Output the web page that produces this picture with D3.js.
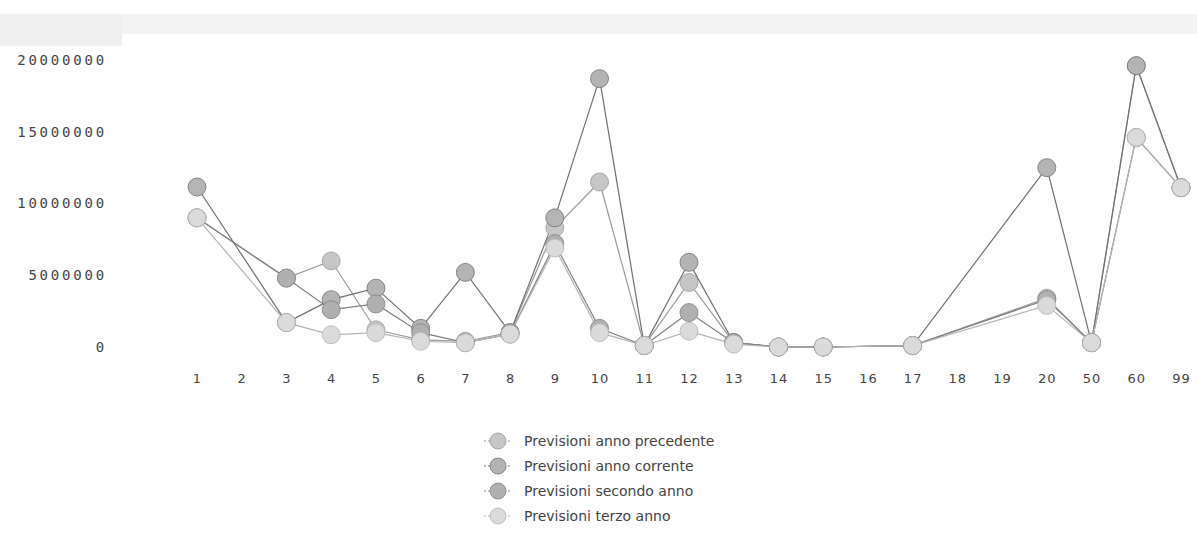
<!DOCTYPE html>
<html>
<head>
<meta charset="utf-8">
<script src="https://cdn.jsdelivr.net/npm/d3@7"></script>
<style>
  html, body { margin: 0; padding: 0; background: #fff; }
  svg { display: block; }
</style>
</head>
<body>
<script>
// ---- data ----
const categories = ["1","2","3","4","5","6","7","8","9","10","11","12","13","14","15","16","17","18","19","20","50","60","99"];
const seriesNames = ["Previsioni anno precedente","Previsioni anno corrente","Previsioni secondo anno","Previsioni terzo anno"];
const annoPrecedente = [9000000,null,4800000,6000000,1200000,500000,400000,1000000,8300000,11500000,100000,4500000,300000,0,0,null,100000,null,null,3400000,300000,19600000,11100000];
const annoCorrente   = [11150000,null,1700000,3300000,4100000,1300000,5200000,1000000,9000000,18700000,100000,5900000,300000,0,0,null,100000,null,null,12500000,300000,19600000,11100000];
const secondoAnno    = [9000000,null,4800000,2600000,3000000,1000000,300000,900000,7200000,1300000,100000,2400000,300000,0,0,null,100000,null,null,3300000,300000,14600000,11100000];
const terzoAnno      = [9000000,null,1700000,850000,1000000,400000,300000,900000,6900000,1000000,100000,1100000,200000,0,0,null,100000,null,null,2900000,300000,14600000,11100000];
const yTicks = [0,5000000,10000000,15000000,20000000];

const allSeries = [annoPrecedente, annoCorrente, secondoAnno, terzoAnno];
const lineColors = ["#9a9a9a","#707070","#808080","#b4b4b4"];
const fillColors = ["#c6c6c6","#b4b4b4","#b0b0b0","#dadada"];

const W = 1197, H = 558;
const svg = d3.select("body").append("svg").attr("width", W).attr("height", H);

// light header band
svg.append("rect").attr("x",0).attr("y",14).attr("width",W).attr("height",20).attr("fill","#f3f3f3");
svg.append("rect").attr("x",0).attr("y",14).attr("width",122).attr("height",32).attr("fill","#efefef");

const x = d3.scalePoint().domain(categories).range([197, 1181]);
const y = d3.scaleLinear().domain([0, 20000000]).range([347, 60]);

// y axis
const yAxis = svg.append("g").attr("transform","translate(109,0)")
  .call(d3.axisLeft(y).tickValues(yTicks).tickFormat(d3.format("d")).tickSize(0).tickPadding(2));
yAxis.select(".domain").remove();
yAxis.selectAll("text").attr("font-family","DejaVu Sans Mono, monospace").attr("font-size","14px")
  .attr("letter-spacing","2.8px").attr("fill","#444");

// x axis
const xAxis = svg.append("g").attr("transform","translate(0,374)")
  .call(d3.axisBottom(x).tickSize(0).tickPadding(0));
xAxis.select(".domain").remove();
xAxis.selectAll("text").attr("font-family","DejaVu Sans, sans-serif").attr("font-size","13px")
  .attr("letter-spacing","1px").attr("fill","#444");

const line = d3.line().x(d => x(d.c)).y(d => y(d.v));

allSeries.forEach((vals, i) => {
  const pts = categories.map((c, k) => ({c, v: vals[k]})).filter(d => d.v != null);
  svg.append("path").datum(pts).attr("d", line)
    .attr("fill","none").attr("stroke", lineColors[i]).attr("stroke-width",1.2);
});
allSeries.forEach((vals, i) => {
  const pts = categories.map((c, k) => ({c, v: vals[k]})).filter(d => d.v != null);
  svg.append("g").selectAll("circle").data(pts).join("circle")
    .attr("cx", d => x(d.c)).attr("cy", d => y(d.v)).attr("r", 9)
    .attr("fill", fillColors[i]).attr("stroke", lineColors[i]).attr("stroke-width", 0.8);
});

// legend
const legendY = d3.scalePoint().domain(seriesNames).range([441, 516]);
const lg = svg.append("g");
seriesNames.forEach((name, i) => {
  const yy = legendY(name);
  lg.append("line").attr("x1",484).attr("x2",512).attr("y1",yy).attr("y2",yy)
    .attr("stroke", lineColors[i]).attr("stroke-width",1.2).attr("stroke-dasharray","2,2");
  lg.append("circle").attr("cx",498).attr("cy",yy).attr("r",8)
    .attr("fill", fillColors[i]).attr("stroke", lineColors[i]).attr("stroke-width",0.8);
  lg.append("text").attr("x",524).attr("y",yy).attr("dy","0.35em")
    .attr("font-family","DejaVu Sans, sans-serif").attr("font-size","14px").attr("fill","#444")
    .text(name);
});
</script>
</body>
</html>
